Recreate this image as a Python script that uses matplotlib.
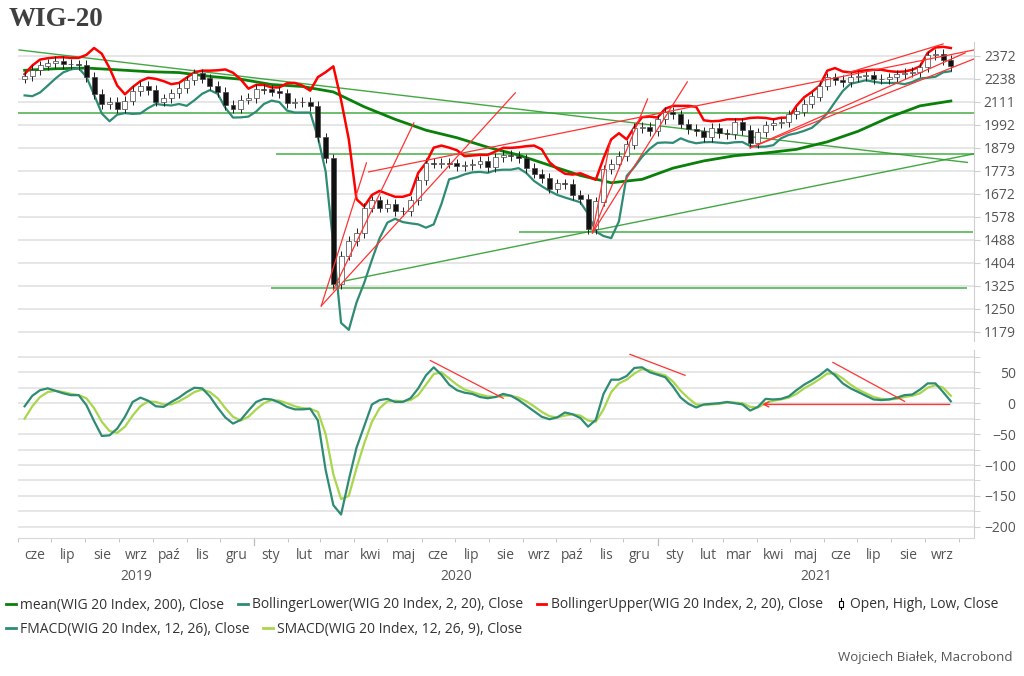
import matplotlib
matplotlib.use("Agg")
import matplotlib.pyplot as plt
import matplotlib.dates as mdates
from matplotlib.lines import Line2D
from matplotlib.patches import Rectangle
from matplotlib.legend_handler import HandlerBase
import pandas as pd

# weekly closes (Fridays from 2019-06-07)
first_open = 2240
closes = [2255, 2290, 2315, 2328, 2342, 2324, 2322, 2318, 2248, 2155,
          2098, 2111, 2075, 2118, 2170, 2200, 2176, 2112, 2130, 2158,
          2187, 2230, 2270, 2240, 2200, 2165, 2095, 2075, 2123, 2133,
          2183, 2178, 2167, 2158, 2105, 2108, 2111, 2090, 1930, 1830,
          1330, 1430, 1485, 1515, 1615, 1645, 1615, 1630, 1600, 1600,
          1645, 1730, 1809, 1805, 1808, 1806, 1793, 1798, 1805, 1818,
          1790, 1835, 1845, 1840, 1830, 1785, 1760, 1742, 1695, 1718,
          1715, 1668, 1650, 1530, 1640, 1780, 1805, 1840, 1895, 1975,
          1980, 1960, 2020, 2058, 2046, 1998, 1970, 1960, 1932, 1975,
          1950, 1945, 2005, 1965, 1900, 1955, 1990, 2000, 2005, 2045,
          2060, 2102, 2140, 2200, 2246, 2232, 2220, 2250, 2255, 2258,
          2236, 2235, 2247, 2263, 2273, 2276, 2305, 2375, 2385, 2348,
          2310]

upper = [2265, 2315, 2350, 2358, 2363, 2364, 2360, 2360, 2378, 2420,
         2385, 2300, 2200, 2152, 2192, 2225, 2244, 2238, 2225, 2208,
         2215, 2245, 2275, 2285, 2285, 2287, 2292, 2273, 2235, 2183,
         2204, 2204, 2190, 2190, 2213, 2215, 2200, 2172, 2248, 2276,
         2310, 2121, 1920, 1650, 1620, 1668, 1685, 1672, 1660, 1660,
         1670, 1764, 1809, 1880, 1890, 1880, 1868, 1840, 1843, 1846,
         1846, 1862, 1879, 1879, 1882, 1887, 1890, 1872, 1812, 1782,
         1760, 1756, 1762, 1748, 1733, 1830, 1920, 1950, 1920, 1980,
         2031, 2034, 2029, 2075, 2090, 2090, 2090, 2085, 2015, 2010,
         2012, 2020, 2020, 2020, 2027, 2029, 2027, 2020, 2028, 2029,
         2090, 2136, 2165, 2200, 2285, 2300, 2280, 2275, 2282, 2287,
         2290, 2290, 2282, 2278, 2280, 2290, 2310, 2390, 2423, 2427,
         2420]

lower = [2146, 2142, 2162, 2200, 2240, 2275, 2292, 2300, 2250, 2150,
         2050, 2010, 2044, 2052, 2048, 2050, 2078, 2100, 2095, 2092,
         2100, 2090, 2120, 2155, 2175, 2155, 2080, 2029, 2030, 2034,
         2060, 2100, 2118, 2110, 2065, 2055, 2055, 2055, 1930, 1770,
         1470, 1206, 1185, 1270, 1335, 1415, 1495, 1555, 1570, 1557,
         1552, 1548, 1535, 1548, 1630, 1735, 1744, 1757, 1766, 1768,
         1764, 1775, 1778, 1778, 1785, 1763, 1728, 1705, 1685, 1668,
         1657, 1647, 1637, 1590, 1520, 1503, 1495, 1560, 1750, 1790,
         1837, 1875, 1903, 1905, 1903, 1925, 1910, 1901, 1906, 1907,
         1904, 1901, 1906, 1907, 1888, 1884, 1885, 1892, 1925, 1942,
         1950, 1962, 1977, 2010, 2052, 2111, 2170, 2210, 2220, 2230,
         2222, 2215, 2215, 2215, 2208, 2220, 2240, 2244, 2250, 2275,
         2282]

# 200-session mean, one value every 4 weeks
mean200 = [2287, 2296, 2300, 2290, 2279, 2274, 2252, 2236, 2206, 2195,
           2165, 2085, 2020, 1965, 1928, 1882, 1845, 1798, 1752, 1720,
           1735, 1785, 1818, 1842, 1855, 1872, 1908, 1960, 2030, 2090,
           2116]

fmacd = [-5, 12, 21, 24, 20, 16, 13, 13, -3, -29,
         -53, -52, -41, -22, 2, 9, 4, -5, -6, 2,
         9, 18, 25, 24, 11, -7, -23, -33, -27, -12,
         2, 7, 6, 1, -6, -10, -10, -9, -28, -108,
         -165, -180, -124, -72, -37, -2, 5, 7, 2, 2,
         8, 24, 45, 58, 46, 30, 21, 17, 15, 10,
         8, 10, 15, 12, 5, -4, -13, -22, -26, -23,
         -15, -18, -24, -38, -27, 15, 38, 38, 44, 57,
         58, 50, 46, 42, 27, 9, -1, -7, -2, -1,
         0, 2, 0, -2, -12, -6, 7, 6, 7, 11,
         21, 30, 37, 45, 55, 45, 32, 24, 18, 12,
         6, 5, 6, 9, 13, 14, 22, 32, 32, 18,
         3]

smacd = [-25, -5, 10, 18, 20, 18, 15, 13, 8, -8,
         -30, -45, -48, -38, -20, -5, 3, 2, -2, -2,
         3, 10, 18, 22, 18, 8, -8, -22, -28, -22,
         -10, 0, 5, 4, 0, -5, -8, -9, -14, -50,
         -115, -155, -150, -105, -65, -30, -8, 3, 4, 3,
         5, 13, 30, 47, 50, 40, 30, 22, 18, 14,
         11, 10, 12, 12, 9, 3, -5, -14, -21, -23,
         -20, -18, -20, -28, -30, -10, 18, 32, 38, 48,
         55, 53, 48, 45, 35, 20, 8, -2, -3, -2,
         -1, 1, 1, 0, -6, -7, 0, 4, 6, 9,
         15, 24, 31, 39, 48, 48, 40, 30, 22, 16,
         10, 7, 6, 7, 10, 12, 16, 25, 29, 25,
         12]

# hand drawn trend lines: (start date, value, end date, value)
green_slopes = [("2019-06-02", 2408, "2021-10-09", 1811),
                ("2020-03-15", 1335, "2021-10-15", 1851)]
green_levels = [("2019-06-01", "2021-10-15", 2055),
                ("2020-01-22", "2021-10-15", 1851),
                ("2020-08-29", "2021-10-13", 1520),
                ("2020-01-17", "2021-10-08", 1318)]
red_lines = [("2020-03-02", 1259, "2020-04-12", 1809),
             ("2020-03-13", 1311, "2020-05-25", 2002),
             ("2020-03-02", 1259, "2020-08-25", 2160),
             ("2020-04-14", 1768, "2021-10-15", 2408),
             ("2020-11-03", 1515, "2020-11-19", 1908),
             ("2020-11-03", 1515, "2020-12-23", 2127),
             ("2020-11-03", 1515, "2021-01-28", 2221),
             ("2021-03-26", 1879, "2021-10-07", 2390),
             ("2021-03-26", 1879, "2021-10-15", 2354),
             ("2021-06-23", 2273, "2021-09-17", 2445)]
red_macd = [("2020-06-09", 69, "2020-08-14", 8),
            ("2020-12-07", 79, "2021-01-26", 45),
            ("2021-06-09", 66, "2021-08-13", 3)]
red_macd_arrow = ("2021-09-23", -2, "2021-04-06", -2)

top_ticks = [1179, 1250, 1325, 1404, 1488, 1578, 1672, 1773, 1879, 1992, 2111, 2238, 2372]
months_pl = ["sty", "lut", "mar", "kwi", "maj", "cze", "lip", "sie", "wrz", "paź", "lis", "gru"]

dates = pd.date_range("2019-06-07", periods=len(closes), freq="W-FRI")
opens = [first_open] + closes[:-1]

C_UP = "#ff0000"
C_LOW = "#2e8b74"
C_MEAN = "#0a800a"
C_SIG = "#a8d64c"
C_GRID = "#e4e4e4"
C_TXT = "#555555"
C_TREND = "#ff3333"

plt.rcParams["font.family"] = ["Open Sans", "DejaVu Sans"]

fig = plt.figure(figsize=(10.24, 6.76), dpi=100)
ax = fig.add_axes([18 / 1024, 1 - 341 / 676, 956 / 1024, 299 / 676])
bx = fig.add_axes([18 / 1024, 1 - 538 / 676, 956 / 1024, 188 / 676], sharex=ax)

# --- price panel
ax.set_yscale("log")
ax.set_ylim(1152, 2457)
for a, b, v in green_levels:
    ax.plot([pd.Timestamp(a), pd.Timestamp(b)], [v, v], color="#5cb85c", lw=1.4, alpha=0.9, zorder=2)
for a, va, b, vb in green_slopes:
    ax.plot([pd.Timestamp(a), pd.Timestamp(b)], [va, vb], color="#2e9e2e", lw=1.0, alpha=0.9, zorder=2)
ax.plot(dates[::4], mean200, color=C_MEAN, lw=2.0, zorder=3)
ax.plot(dates, lower, color=C_LOW, lw=1.6, zorder=3)
ax.plot(dates, upper, color=C_UP, lw=1.8, zorder=3)

for d, o, c in zip(dates, opens, closes):
    hi = max(o, c) * 1.012
    lo = min(o, c) * 0.988
    ax.vlines(d, lo, hi, color="#222222", lw=0.7, zorder=4)
    face = "#111111" if c < o else "white"
    ax.bar(d, abs(c - o) + 0.5, bottom=min(o, c), width=4.5, color=face,
           edgecolor="#444444", lw=0.5, zorder=5)

for a, va, b, vb in red_lines:
    ax.plot([pd.Timestamp(a), pd.Timestamp(b)], [va, vb], color=C_TREND, lw=0.9, zorder=6)

ax.yaxis.set_major_locator(matplotlib.ticker.FixedLocator(top_ticks))
ax.yaxis.set_major_formatter(matplotlib.ticker.FixedFormatter([str(t) for t in top_ticks]))
ax.yaxis.set_minor_locator(matplotlib.ticker.NullLocator())

# --- MACD panel
bx.set_ylim(-218, 86)
bx.plot(dates, smacd, color=C_SIG, lw=1.6, zorder=3)
bx.plot(dates, fmacd, color=C_LOW, lw=1.6, zorder=4)
for a, va, b, vb in red_macd:
    bx.plot([pd.Timestamp(a), pd.Timestamp(b)], [va, vb], color=C_TREND, lw=0.9, zorder=6)
a, va, b, vb = red_macd_arrow
bx.annotate("", xy=(pd.Timestamp(b), vb), xytext=(pd.Timestamp(a), va),
            arrowprops=dict(arrowstyle="->", color=C_TREND, lw=1.0, shrinkA=0, shrinkB=0,
                            mutation_scale=9), zorder=6)
bx.yaxis.set_major_locator(matplotlib.ticker.MultipleLocator(50))
bx.yaxis.set_minor_locator(matplotlib.ticker.MultipleLocator(25))

for a in (ax, bx):
    for s in ("left", "top", "bottom"):
        a.spines[s].set_visible(False)
    a.spines["right"].set_color("#cfcfcf")
    a.yaxis.tick_right()
    a.grid(True, axis="y", which="both", color=C_GRID, lw=1.3)
    a.set_axisbelow(True)
    a.tick_params(axis="y", which="both", length=4, color="#cfcfcf", labelsize=10,
                  labelcolor=C_TXT, pad=26)
    for lab in a.get_yticklabels():
        lab.set_horizontalalignment("right")

ax.tick_params(axis="x", which="both", bottom=False, labelbottom=False)
bx.spines["bottom"].set_visible(True)
bx.spines["bottom"].set_color("#d8d8d8")

x0, x1 = pd.Timestamp("2019-06-01"), pd.Timestamp("2021-10-15")
bx.set_xlim(x0, x1)
bx.xaxis.set_major_locator(mdates.MonthLocator(bymonthday=16))
bx.xaxis.set_major_formatter(matplotlib.ticker.FuncFormatter(
    lambda v, p: months_pl[mdates.num2date(v).month - 1]))
bx.xaxis.set_minor_locator(mdates.MonthLocator())
bx.tick_params(axis="x", which="major", length=0, pad=7, labelsize=10, labelcolor=C_TXT)
bx.tick_params(axis="x", which="minor", length=3, color="#bbbbbb")
for yr in (2020, 2021):
    bx.axvline(pd.Timestamp(f"{yr}-01-01"), ymin=-0.035, ymax=0, color="#bbbbbb", lw=0.9, clip_on=False)

for yr in (2019, 2020, 2021):
    a = max(x0, pd.Timestamp(f"{yr}-01-01"))
    b = min(x1, pd.Timestamp(f"{yr + 1}-01-01"))
    mid = a + (b - a) / 2
    bx.annotate(str(yr), xy=(mid, 0), xycoords=("data", "axes fraction"),
                xytext=(0, -28), textcoords="offset points", ha="center", va="center",
                fontsize=10, color=C_TXT)

fig.text(9 / 1024, 1 - 20 / 676, "WIG-20", fontsize=19.5, fontweight="bold",
         family="Liberation Serif", color="#404040", va="center", ha="left")
fig.text(1013 / 1024, 1 - 657 / 676, "Wojciech Białek, Macrobond", fontsize=9.5,
         color=C_TXT, ha="right", va="center")


class CandleHandler(HandlerBase):
    def create_artists(self, legend, orig, xd, yd, w, h, fontsize, trans):
        cx = -xd + w / 2
        y0 = -yd
        wick = Line2D([cx, cx], [y0 - 0.1 * h, y0 + 1.1 * h], color="black", lw=0.8, transform=trans)
        body = Rectangle((cx - 0.2 * h, y0 + 0.2 * h), 0.4 * h, 0.6 * h, facecolor="white",
                         edgecolor="black", lw=0.8, transform=trans)
        return [wick, body]


candle_key = Rectangle((0, 0), 1, 1)
row1 = [Line2D([], [], color=C_MEAN, lw=2), Line2D([], [], color=C_LOW, lw=2),
        Line2D([], [], color=C_UP, lw=2), candle_key]
lab1 = ["mean(WIG 20 Index, 200), Close", "BollingerLower(WIG 20 Index, 2, 20), Close",
        "BollingerUpper(WIG 20 Index, 2, 20), Close", "Open, High, Low, Close"]
row2 = [Line2D([], [], color=C_LOW, lw=2), Line2D([], [], color=C_SIG, lw=2)]
lab2 = ["FMACD(WIG 20 Index, 12, 26), Close", "SMACD(WIG 20 Index, 12, 26, 9), Close"]

common = dict(frameon=False, handlelength=0.7, handletextpad=0.3, columnspacing=1.0,
              fontsize=10, labelcolor="#333333", borderaxespad=0, borderpad=0)
leg1 = fig.legend(row1, lab1, loc="center left", bbox_to_anchor=(6 / 1024, 1 - 605 / 676),
                  ncol=4, handler_map={Rectangle: CandleHandler()}, **common)
leg2 = fig.legend(row2, lab2, loc="center left", bbox_to_anchor=(6 / 1024, 1 - 629 / 676),
                  ncol=2, **common)

fig.savefig("out.png", dpi=100)
